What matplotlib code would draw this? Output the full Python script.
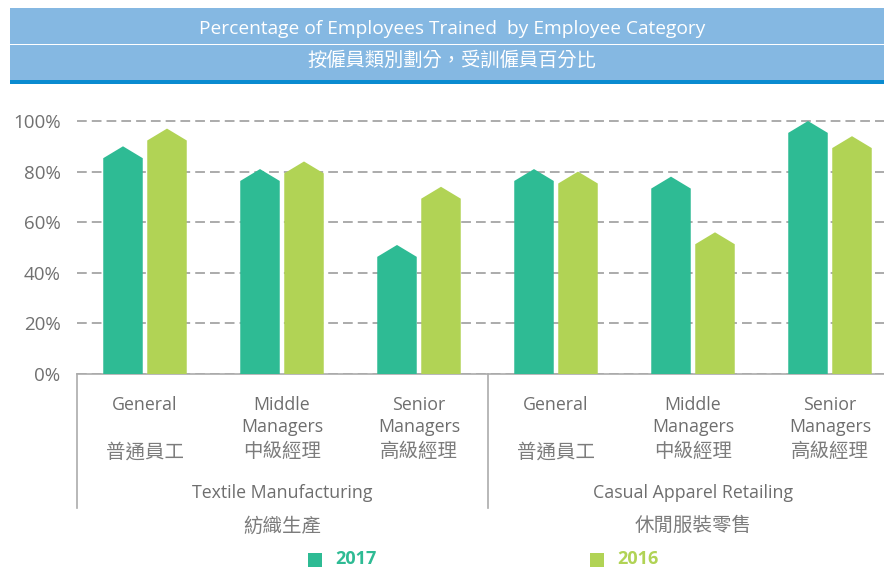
import matplotlib
matplotlib.use('Agg')
import matplotlib.pyplot as plt
from matplotlib.patches import Polygon, Rectangle
from matplotlib.lines import Line2D

# Dati del grafico
sectors_en = ["Textile Manufacturing", "Casual Apparel Retailing"]
sectors_zh = ["紡織生產", "休閒服裝零售"]
categories_en = ["General", "Middle\nManagers", "Senior\nManagers"]
categories_zh = ["普通員工", "中級經理", "高級經理"]
values_2017 = [90, 81, 51, 81, 78, 100]
values_2016 = [97, 84, 74, 80, 56, 94]
y_ticks = [0, 20, 40, 60, 80, 100]
y_tick_labels = ["0%", "20%", "40%", "60%", "80%", "100%"]
series_labels = ["2017", "2016"]

title_en = "Percentage of Employees Trained  by Employee Category"
title_zh = "按僱員類別劃分，受訓僱員百分比"

teal = "#2ebb94"
green = "#b1d355"
text_grey = "#6e6e6e"
cjk_grey = "#7c7c7c"
FONTS = ["Open Sans", "Noto Sans CJK TC", "DejaVu Sans"]

W, H = 884, 568
fig = plt.figure(figsize=(W / 100, H / 100), dpi=100)


def fx(px):
    return px / W


def fy(px):
    return 1 - px / H


# Intestazione blu
fig.patches.append(Rectangle((fx(10), fy(80)), 1, fy(8) - fy(80), transform=fig.transFigure,
                             color="#85b8e2", lw=0, zorder=0))
fig.patches.append(Rectangle((fx(10), fy(45)), 1, fy(43.5) - fy(45), transform=fig.transFigure,
                             color="white", lw=0, zorder=1))
fig.patches.append(Rectangle((fx(10), fy(84)), 1, fy(80) - fy(84), transform=fig.transFigure,
                             color="#0a8bd0", lw=0, zorder=1))
fig.text(fx(452), fy(29), title_en, color="white", fontsize=13.8, ha="center", va="center",
         family=FONTS)
fig.text(fx(452), fy(61), title_zh, color="white", fontsize=13.9, ha="center", va="center",
         family=FONTS, fontweight="light")

# Assi
y_min, y_max = 0, 105
ax_bottom, px_per_unit = 374, 2.53
ax_top = ax_bottom - y_max * px_per_unit
ax_left = 76.5
slot = 137.0
ax = fig.add_axes([fx(ax_left), fy(ax_bottom), 1 - fx(ax_left), fy(ax_top) - fy(ax_bottom)])
ax.set_ylim(y_min, y_max)
ax.set_xlim(-0.5, (W - ax_left) / slot - 0.5)

# Barre con punta a freccia
bar_w = 39.5 / slot
offset = 22 / slot
tip = 4.7
n = len(values_2017)
for series, (vals, col) in enumerate([(values_2017, teal), (values_2016, green)]):
    for i in range(n):
        xc = i + (-offset if series == 0 else offset)
        v = vals[i]
        pts = [(xc - bar_w / 2, 0), (xc - bar_w / 2, v - tip), (xc, v),
               (xc + bar_w / 2, v - tip), (xc + bar_w / 2, 0)]
        ax.add_patch(Polygon(pts, closed=True, color=col, lw=0, zorder=3, clip_on=False))

# Griglia tratteggiata
ax.set_yticks(y_ticks)
ax.set_yticklabels(y_tick_labels, family=FONTS, fontsize=13.5, color="#707070")
ax.tick_params(axis="y", length=0, pad=11.5)
ax.set_xticks([])
ax.grid(axis="y", color="#ababab", linestyle=(0, (5, 2.6)), linewidth=1.4)
ax.set_axisbelow(True)
for spine in ["top", "right", "left"]:
    ax.spines[spine].set_visible(False)
ax.spines["bottom"].set_color("#ababab")
ax.spines["bottom"].set_linewidth(1.2)

# Linee verticali di separazione sotto l'asse
trans = ax.get_xaxis_transform()
sep_bottom = -(508 - ax_bottom) / (ax_bottom - ax_top)
for xs in [-0.5, 2.5]:
    ax.add_line(Line2D([xs, xs], [0, sep_bottom], transform=trans, color="#ababab",
                       lw=1.2, clip_on=False))


def pt(px):
    return -px * 0.72


# Etichette categorie
for i in range(n):
    en_lines = categories_en[i % 3].split("\n")
    for k, line in enumerate(en_lines):
        ax.annotate(line, xy=(i, 0), xycoords=trans, xytext=(0, pt(31 + 22 * k)),
                    textcoords="offset points", ha="center", va="center",
                    fontsize=12.8, color=text_grey, family=FONTS)
    ax.annotate(categories_zh[i % 3], xy=(i, 0), xycoords=trans, xytext=(0, pt(78)),
                textcoords="offset points", ha="center", va="center",
                fontsize=14, color=cjk_grey, family=FONTS, fontweight="light")

for j in range(len(sectors_en)):
    xc = 3 * j + 1
    ax.annotate(sectors_en[j], xy=(xc, 0), xycoords=trans, xytext=(0, pt(119)),
                textcoords="offset points", ha="center", va="center",
                fontsize=12.8, color=text_grey, family=FONTS)
    ax.annotate(sectors_zh[j], xy=(xc, 0), xycoords=trans, xytext=(0, pt(152)),
                textcoords="offset points", ha="center", va="center",
                fontsize=14, color=cjk_grey, family=FONTS, fontweight="light")

# Legenda
for lab, col, x0 in zip(series_labels, [teal, green], [308, 590]):
    fig.patches.append(Rectangle((fx(x0), fy(567)), fx(14), fy(553) - fy(567),
                                 transform=fig.transFigure, color=col, lw=0))
    fig.text(fx(x0 + 27), fy(559), lab, color=col, fontsize=13, fontweight="bold",
             ha="left", va="center", family=FONTS)

fig.savefig("out.png", dpi=100)
plt.close(fig)
